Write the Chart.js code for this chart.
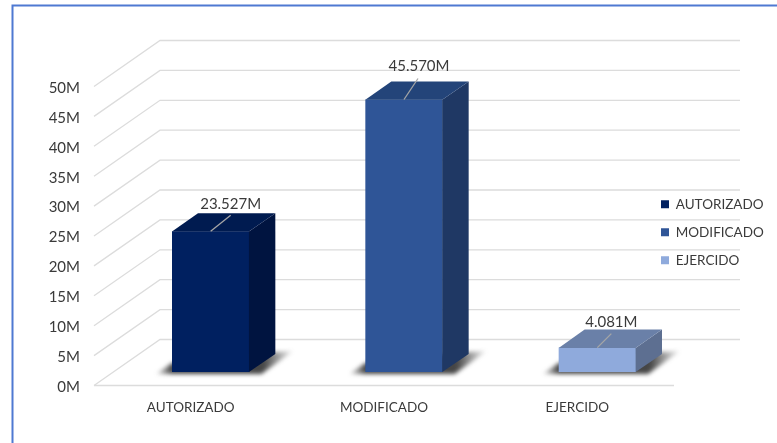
<!DOCTYPE html>
<html><head><meta charset="utf-8">
<style>html,body{margin:0;padding:0;background:#fff}#w{position:relative;width:777px;height:443px}</style>
<script src="https://cdn.jsdelivr.net/npm/chart.js@4"></script>
</head><body><div id="w"><canvas id="c" width="777" height="443"></canvas></div>
<script>
const categories = ["AUTORIZADO", "MODIFICADO", "EJERCIDO"];
const values = [23527000, 45570000, 4081000];
const frontColors = ["#002060", "#2F5597", "#8FAADC"];
const topColors = ["#001B50", "#234479", "#6A80A8"];
const sideColors = ["#001440", "#1F3864", "#5D6F91"];
const leaderTips = [[20, -16], [14, -21], [14, -14]];
const labelSpots = [[20, -27], [15, -33], [14, -25]];
const yMax = 50000000, yStep = 5000000;

const FONT = 'Lato, sans-serif';
const DEPTH = {x: 66, y: -46};
const BAR_SHIFT = {x: 20, y: -13.5};
const BAR_DEPTH = {x: 26, y: -18};

function poly(ctx, pts, fill) {
  ctx.beginPath();
  pts.forEach((p, i) => i ? ctx.lineTo(p[0], p[1]) : ctx.moveTo(p[0], p[1]));
  ctx.closePath();
  ctx.fillStyle = fill;
  ctx.fill();
}

const scene = {
  id: 'scene',
  beforeDraw(chart) {
    const ctx = chart.ctx;
    ctx.save();
    ctx.strokeStyle = '#4E79D2';
    ctx.lineWidth = 2;
    ctx.beginPath();
    ctx.moveTo(12.5, 443);
    ctx.lineTo(12.5, 5.5);
    ctx.lineTo(777, 5.5);
    ctx.stroke();
    ctx.restore();
  },
  afterLayout(chart) {
    const lg = chart.legend;
    if (!lg) return;
    lg.left = 646.5; lg.top = 183;
    lg.right = 777; lg.bottom = 383;
    lg.width = 130.5; lg.height = 200;
    if (lg.adjustHitBoxes) lg.adjustHitBoxes();
  },
  beforeDatasetsDraw(chart) {
    const ctx = chart.ctx, y = chart.scales.y, a = chart.chartArea;
    ctx.save();
    ctx.strokeStyle = '#DCDCDC';
    ctx.lineWidth = 1.3;
    y.ticks.forEach((t, i) => {
      const py = y.getPixelForTick(i);
      ctx.beginPath();
      ctx.moveTo(a.left, py);
      ctx.lineTo(a.left + DEPTH.x, py + DEPTH.y);
      ctx.lineTo(a.right + DEPTH.x, py + DEPTH.y);
      ctx.stroke();
    });
    const py0 = y.getPixelForValue(0);
    ctx.beginPath();
    ctx.moveTo(a.left, py0);
    ctx.lineTo(a.right, py0);
    ctx.stroke();
    // floor shadows
    const els = chart.getDatasetMeta(0).data;
    ctx.filter = 'blur(2px)';
    els.forEach(el => {
      const L = el.x - el.width / 2 + BAR_SHIFT.x, R = el.x + el.width / 2 + BAR_SHIFT.x, B = el.base + BAR_SHIFT.y;
      const x0 = L - 18, x1 = R + 46;
      const g = ctx.createLinearGradient(x0, 0, x1, 0);
      const s = (L - x0) / (x1 - x0), e = (R + 14 - x0) / (x1 - x0);
      g.addColorStop(0, 'rgba(60,60,60,0)');
      g.addColorStop(s, 'rgba(50,50,50,0.9)');
      g.addColorStop(e, 'rgba(50,50,50,0.9)');
      g.addColorStop(1, 'rgba(70,70,70,0)');
      poly(ctx, [[L - 16, B + 2], [L, B - 9], [R + BAR_DEPTH.x, B - 20], [R + 44, B - 21], [R + 12, B + 2]], g);
    });
    ctx.restore();
  },
  beforeDatasetDraw(chart) {
    chart.ctx.save();
    chart.ctx.translate(BAR_SHIFT.x, BAR_SHIFT.y);
  },
  afterDatasetDraw(chart) {
    const ctx = chart.ctx;
    chart.getDatasetMeta(0).data.forEach((el, i) => {
      const L = el.x - el.width / 2, R = el.x + el.width / 2, T = el.y, B = el.base;
      const dx = BAR_DEPTH.x, dy = BAR_DEPTH.y;
      poly(ctx, [[R - 0.4, T + 0.3], [R + dx, T + dy], [R + dx, B + dy], [R - 0.4, B]], sideColors[i]);
      poly(ctx, [[L, T + 0.3], [L + dx, T + dy], [R + dx, T + dy], [R - 0.4, T + 0.3]], topColors[i]);
      ctx.strokeStyle = '#A6A6A6';
      ctx.lineWidth = 1.3;
      ctx.beginPath();
      ctx.moveTo(el.x, T);
      ctx.lineTo(el.x + leaderTips[i][0], T + leaderTips[i][1]);
      ctx.stroke();
      ctx.fillStyle = '#3A3A3A';
      ctx.font = '15px ' + FONT;
      ctx.textAlign = 'center';
      ctx.textBaseline = 'middle';
      ctx.fillText((values[i] / 1e6).toFixed(3) + 'M', el.x + labelSpots[i][0], T + labelSpots[i][1]);
    });
    ctx.restore();
  }
};

new Chart(document.getElementById('c'), {
  type: 'bar',
  data: {
    labels: categories,
    datasets: [{
      data: values,
      backgroundColor: frontColors,
      barPercentage: 0.4,
      categoryPercentage: 1,
      clip: false
    }]
  },
  options: {
    responsive: false,
    animation: false,
    devicePixelRatio: 1,
    layout: {padding: {left: 0, top: 86.5, right: 103, bottom: 0}},
    scales: {
      x: {
        grid: {display: false},
        border: {display: false},
        afterFit(s) { s.height = 57.5; },
        ticks: {color: '#3A3A3A', font: {family: FONT, size: 13.5}, padding: 6, maxRotation: 0}
      },
      y: {
        min: 0, max: yMax,
        grid: {display: false, drawTicks: false},
        border: {display: false},
        afterFit(s) { s.width = 94; },
        ticks: {
          stepSize: yStep,
          color: '#3A3A3A',
          font: {family: FONT, size: 15},
          padding: 14,
          labelOffset: 1.5,
          callback: v => (v / 1e6) + 'M'
        }
      }
    },
    plugins: {
      tooltip: {enabled: false},
      title: {display: false},
      legend: {
        position: 'chartArea',
        align: 'start',
        onClick: null,
        labels: {
          boxWidth: 8, boxHeight: 8, padding: 14.5,
          color: '#3A3A3A',
          font: {family: FONT, size: 13.5},
          generateLabels: c => c.data.labels.map((t, i) => ({
            text: t, fillStyle: frontColors[i], strokeStyle: frontColors[i], lineWidth: 0, fontColor: '#3A3A3A', index: i
          }))
        }
      }
    }
  },
  plugins: [scene]
});
</script></body></html>
